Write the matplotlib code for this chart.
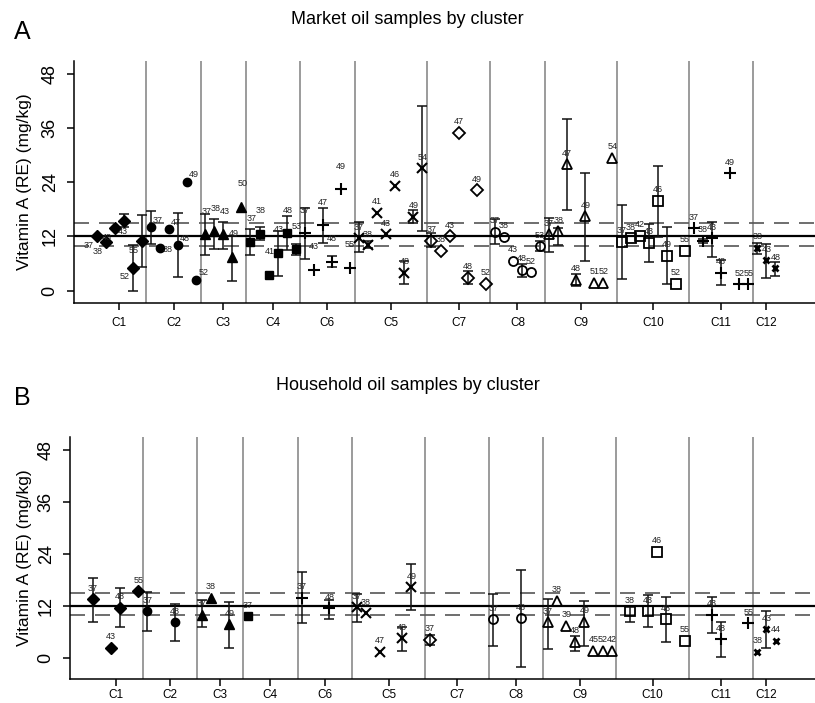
import numpy as np
import matplotlib
matplotlib.use("Agg")
import matplotlib.pyplot as plt

plt.rcParams['font.family'] = ['Liberation Sans', 'DejaVu Sans']

nan = np.nan

# cluster order on the x axis, tick spots and group separators
clusters = ["C1", "C2", "C3", "C4", "C6", "C5", "C7", "C8", "C9", "C10", "C11", "C12"]
tick_pos = [5, 11, 16.5, 22, 28, 35, 42.5, 49, 56, 64, 71.5, 76.5]
separators = [8, 14, 19, 25, 31, 39, 46, 52, 60, 68, 75]
ref_mid = 12.0
ref_band = [15.0, 9.85]

# ---- market samples (panel A) ----
a_cl = (["C1"] * 6 + ["C2"] * 6 + ["C3"] * 5 + ["C4"] * 6 + ["C6"] * 6 + ["C5"] * 8
        + ["C7"] * 7 + ["C8"] * 6 + ["C9"] * 8 + ["C10"] * 8 + ["C11"] * 7 + ["C12"] * 3)
a_x = [2.5, 3.5, 4.5, 5.5, 6.5, 7.5,
       8.5, 9.5, 10.5, 11.5, 12.5, 13.5,
       14.5, 15.5, 16.5, 17.5, 18.5,
       19.5, 20.5, 21.5, 22.5, 23.5, 24.5,
       25.5, 26.5, 27.5, 28.5, 29.5, 30.5,
       31.5, 32.5, 33.5, 34.5, 35.5, 36.5, 37.5, 38.5,
       39.5, 40.5, 41.5, 42.5, 43.5, 44.5, 45.5,
       46.5, 47.5, 48.5, 49.5, 50.5, 51.5,
       52.5, 53.5, 54.5, 55.5, 56.5, 57.5, 58.5, 59.5,
       60.5, 61.5, 62.5, 63.5, 64.5, 65.5, 66.5, 67.5,
       68.5, 69.5, 70.5, 71.5, 72.5, 73.5, 74.5,
       75.5, 76.5, 77.5]
a_mean = [12.0, 10.7, 13.8, 15.5, 5.1, 11.1,
          14.0, 9.5, 13.6, 10.1, 24.1, 2.4,
          12.5, 13.2, 12.5, 7.5, 18.6,
          10.8, 12.6, 3.5, 8.4, 12.7, 9.2,
          12.7, 4.6, 14.5, 6.4, 22.5, 5.1,
          11.6, 10.1, 17.3, 12.5, 23.2, 4.0, 16.4, 27.1,
          11.1, 8.8, 12.0, 35.0, 2.9, 22.2, 1.5,
          13.0, 11.9, 6.6, 4.6, 4.1, 9.8,
          12.5, 13.1, 28.0, 2.4, 16.5, 1.8, 1.8, 29.4,
          10.8, 11.6, 12.2, 10.6, 19.9, 7.7, 1.5, 8.8,
          13.8, 11.1, 11.6, 4.0, 26.0, 1.4, 1.4,
          9.5, 6.7, 5.0]
a_lo = [nan, nan, nan, 14.0, 0.0, 5.3,
        10.3, nan, nan, 3.1, nan, nan,
        7.8, 9.2, 9.2, 2.2, nan,
        7.9, 11.2, nan, 3.3, 9.0, 7.9,
        7.0, nan, 10.5, 5.2, nan, nan,
        8.6, 9.4, nan, nan, nan, 1.4, 15.0, 13.2,
        9.7, nan, nan, nan, 1.4, nan, nan,
        10.3, nan, nan, 3.1, nan, 8.8,
        8.6, 10.1, 17.9, 1.1, 6.6, nan, nan, nan,
        2.5, nan, nan, 6.4, 11.9, 1.4, nan, nan,
        nan, 10.6, 7.5, 1.3, nan, nan, nan,
        8.1, 2.7, 3.3]
a_hi = [nan, nan, nan, 17.0, 10.1, 16.7,
        17.6, nan, nan, 17.2, nan, nan,
        16.9, 15.9, 15.3, 12.1, nan,
        13.6, 14.1, nan, 13.1, 16.5, 10.3,
        18.4, nan, 18.4, 7.7, nan, nan,
        15.3, 11.1, nan, nan, nan, 6.6, 17.9, 40.9,
        12.7, nan, nan, nan, 4.4, nan, nan,
        15.9, nan, nan, 5.8, nan, 10.9,
        16.0, 13.9, 37.9, 3.6, 26.1, nan, nan, nan,
        19.0, nan, nan, 14.7, 27.6, 14.2, nan, nan,
        nan, 11.4, 15.3, 6.8, nan, nan, nan,
        10.6, 10.4, 6.3]
a_lab = ["37", "38", "43", "48", "52", "55",
         "37", "38", "47", "48", "49", "52",
         "37", "38", "43", "49", "50",
         "37", "38", "41", "43", "48", "53",
         "37", "43", "47", "48", "49", "55",
         "37", "38", "41", "43", "46", "48", "49", "54",
         "37", "38", "43", "47", "48", "49", "52",
         "37", "38", "43", "48", "52", "53",
         "37", "38", "47", "48", "49", "51", "52", "54",
         "37", "38", "42", "43", "46", "49", "52", "55",
         "37", "38", "43", "48", "49", "52", "55",
         "38", "43", "48"]

# ---- household samples (panel B) ----
b_cl = (["C1"] * 4 + ["C2"] * 2 + ["C3"] * 3 + ["C4"] + ["C6"] * 2 + ["C5"] * 5
        + ["C7"] + ["C8"] * 2 + ["C9"] * 8 + ["C10"] * 5 + ["C11"] * 3 + ["C12"] * 3)
b_x = [2.5, 4.5, 5.5, 7.5,
       8.5, 11.5,
       14.5, 15.5, 17.5,
       19.5,
       25.5, 28.5,
       31.5, 32.5, 34.0, 36.5, 37.5,
       39.5,
       46.5, 49.5,
       52.5, 53.5, 54.5, 55.5, 56.5, 57.5, 58.5, 59.5,
       61.5, 63.5, 64.5, 65.5, 67.5,
       70.5, 71.5, 74.5,
       75.5, 76.5, 77.5]
b_mean = [13.5, 2.3, 11.6, 15.4,
          10.8, 8.2,
          10.0, 13.9, 7.7,
          9.65,
          13.9, 11.4,
          11.7, 10.3, 1.4, 4.5, 16.3,
          4.1,
          8.9, 9.1,
          8.2, 13.2, 7.4, 3.7, 8.3, 1.6, 1.6, 1.6,
          10.7, 10.7, 24.5, 8.9, 3.9,
          9.9, 4.3, 8.0,
          1.4, 6.6, 3.9]
b_lo = [8.3, nan, 7.2, nan,
        6.25, 3.9,
        7.2, nan, 2.2,
        nan,
        8.0, 9.0,
        8.3, nan, nan, 1.55, 11.0,
        2.9,
        2.7, -2.1,
        2.0, nan, nan, 1.6, 2.7, nan, nan, nan,
        8.3, 7.2, nan, 3.6, nan,
        5.8, 0.2, nan,
        nan, 2.3, nan]
b_hi = [18.5, nan, 16.1, nan,
        15.3, 12.4,
        13.4, nan, 12.8,
        nan,
        19.9, 13.4,
        14.7, nan, nan, 7.2, 21.6,
        5.3,
        14.7, 20.3,
        13.6, nan, nan, 5.0, 13.1, nan, nan, nan,
        11.8, 14.5, nan, 14.1, nan,
        14.1, 8.3, nan,
        nan, 10.8, nan]
b_lab = ["37", "43", "48", "55",
         "37", "48",
         "37", "38", "49",
         "37",
         "37", "48",
         "37", "38", "47", "48", "49",
         "37",
         "37", "48",
         "37", "38", "39", "48", "49", "45", "52", "42",
         "38", "43", "46", "48", "55",
         "43", "48", "55",
         "38", "43", "44"]

# marker look of each cluster
filled = dict(mfc="black", mec="black")
hollow = dict(mfc="none", mec="black", mew=1.3)
styles = {
    "C1": dict(marker="D", ms=6, **filled),
    "C2": dict(marker="o", ms=6, **filled),
    "C3": dict(marker="^", ms=7, **filled),
    "C4": dict(marker="s", ms=6, **filled),
    "C6": dict(marker="+", ms=8, mew=1.5, mec="black"),
    "C5": dict(marker="x", ms=6.5, mew=1.5, mec="black"),
    "C7": dict(marker="D", ms=6, **hollow),
    "C8": dict(marker="o", ms=6.5, **hollow),
    "C9": dict(marker="^", ms=7.5, **hollow),
    "C10": dict(marker="s", ms=6.5, **hollow),
    "C11": dict(marker="+", ms=8, mew=1.5, mec="black"),
    "C12": dict(marker="x", ms=5, mew=2, mec="black"),
}

# label offsets in pixels (dx right, dy down)
a_off = {"C1": (-8, 9), "C2": (7, -7), "C3": (1, -23), "C4": (1, -23), "C6": (0, -23)}
a_fix = {("C1", "43"): (8, 3), ("C1", "48"): (-17, 17), ("C1", "55"): (-8, 10),
         ("C2", "38"): (8, 2)}
b_off = {}
b_fix = {}


def panel(ax, cl, xs, ys, lo, hi, labs, off, fix):
    cl = np.array(cl)
    xs, ys = np.array(xs, float), np.array(ys, float)
    lo, hi = np.array(lo, float), np.array(hi, float)
    for s in separators:
        ax.axvline(s, color="#808080", lw=1.1, zorder=1)
    ax.axhline(ref_mid, color="black", lw=1.6, zorder=1)
    for r in ref_band:
        ax.axhline(r, color="#555555", lw=1.2, dashes=(9, 6), zorder=1)
    for c in clusters:
        m = cl == c
        if not m.any():
            continue
        e = m & ~np.isnan(lo)
        if e.any():
            ax.errorbar(xs[e], ys[e], yerr=[ys[e] - lo[e], hi[e] - ys[e]], fmt="none",
                        ecolor="#111111", elinewidth=1.1, capsize=3.4, capthick=1.1, zorder=2)
        ax.plot(xs[m], ys[m], ls="none", zorder=3, **styles[c])
    for c, x, y, t in zip(cl, xs, ys, labs):
        dx, dy = fix.get((c, t), off.get(c, (0, -11)))
        ax.annotate(t, (x, y), xytext=(dx, -dy), textcoords="offset pixels",
                    ha="center", va="center", fontsize=6.5, color="#222222", zorder=4)
    for sp in ["top", "right"]:
        ax.spines[sp].set_visible(False)
    ax.spines["left"].set_linewidth(1.1)
    ax.spines["bottom"].set_linewidth(1.1)
    ax.set_xticks(tick_pos, clusters)
    ax.set_yticks([0, 12, 24, 36, 48])
    ax.tick_params(axis="x", length=5, width=1.1, labelsize=8.5, pad=5)
    ax.tick_params(axis="y", length=5, width=1.1, labelsize=13, pad=6, labelrotation=90)
    for t in ax.get_yticklabels():
        t.set_va("center")


fig = plt.figure(figsize=(8.15, 7.03), dpi=100)
W, H = 815, 703

ax_a = fig.add_axes([74 / W, 1 - 303 / H, (W - 74) / W, (303 - 61) / H])
panel(ax_a, a_cl, a_x, a_mean, a_lo, a_hi, a_lab, a_off, a_fix)
ax_a.set_xlim(0, (W - 74) / 9.05)
ax_a.set_ylim(-(303 - 290.7) / 4.52, (290.7 - 61) / 4.52)

ax_b = fig.add_axes([70 / W, 1 - 679 / H, (W - 70) / W, (679 - 437.3) / H])
panel(ax_b, b_cl, b_x, b_mean, b_lo, b_hi, b_lab, b_off, b_fix)
ax_b.tick_params(axis="x", pad=2.5)
ax_b.set_xlim(0, (W - 70) / 9.104)
ax_b.set_ylim(-(679 - 657.7) / 4.32, (657.7 - 437.3) / 4.32)

fig.text(0.5, 1 - 20 / H, "Market oil samples by cluster", ha="center", va="center", fontsize=13)
fig.text(0.5, 1 - 386 / H, "Household oil samples by cluster", ha="center", va="center", fontsize=13)
fig.text(22 / W, 1 - 32 / H, "A", ha="center", va="center", fontsize=18)
fig.text(22 / W, 1 - 398 / H, "B", ha="center", va="center", fontsize=18)
fig.text(25 / W, 1 - 182 / H, "Vitamin A (RE) (mg/kg)", rotation=90, ha="center", va="center", fontsize=12.5)
fig.text(25 / W, 1 - 558 / H, "Vitamin A (RE) (mg/kg)", rotation=90, ha="center", va="center", fontsize=12.5)

fig.savefig("out.png", dpi=100)
